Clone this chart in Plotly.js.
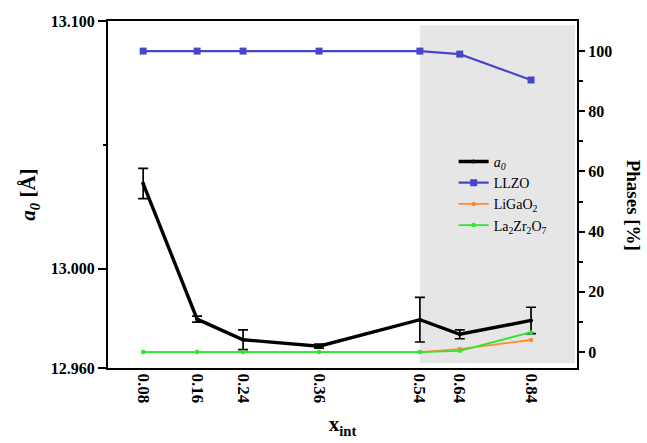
<!DOCTYPE html>
<html>
<head>
<meta charset="utf-8">
<script src="https://cdn.plot.ly/plotly-3.0.1.min.js"></script>
<style>html,body{margin:0;padding:0;background:#fff;}#chart{width:647px;height:443px;}</style>
</head>
<body>
<div id="chart"></div>
<script>
// x categories (tick labels) and their plotted positions on the original (non-linear) axis
const xLabels = ['0.08', '0.16', '0.24', '0.36', '0.54', '0.64', '0.84'];
const xPlot = [0.075, 0.19, 0.288, 0.45, 0.665, 0.75, 0.902];

// lattice parameter a0 [Å] and its error
const a0 = [13.0344, 12.9797, 12.9714, 12.9688, 12.9795, 12.9736, 12.9792];
const a0Err = [0.0061, 0.0012, 0.0040, 0.0008, 0.0090, 0.0018, 0.0053];

// phase fractions [%]
const llzo = [100, 100, 100, 100, 100, 99, 90.4];
const ligao2 = [0, 0, 0, 0, 0, 1, 4];
const la2zr2o7 = [0, 0, 0, 0, 0, 0.4, 6.6];

const FONT = 'Liberation Serif, Times New Roman, serif';

const traces = [
  {
    x: xPlot, y: a0, name: '<i>a<sub>0</sub></i>', yaxis: 'y',
    type: 'scatter', mode: 'lines+markers',
    line: {color: '#000000', width: 3.4},
    marker: {color: '#000000', size: 4, symbol: 'circle'},
    error_y: {type: 'data', array: a0Err, visible: true, color: '#000000', thickness: 1.7, width: 5}
  },
  {
    x: xPlot, y: llzo, name: 'LLZO', yaxis: 'y2',
    type: 'scatter', mode: 'lines+markers',
    line: {color: '#4646c8', width: 2.2},
    marker: {color: '#4646c8', size: 7, symbol: 'square'}
  },
  {
    x: xPlot, y: ligao2, name: 'LiGaO<sub>2</sub>', yaxis: 'y2',
    type: 'scatter', mode: 'lines+markers',
    line: {color: '#ff8a33', width: 1.8},
    marker: {color: '#ff8a33', size: 4.5, symbol: 'circle'}
  },
  {
    x: xPlot, y: la2zr2o7, name: 'La<sub>2</sub>Zr<sub>2</sub>O<sub>7</sub>', yaxis: 'y2',
    type: 'scatter', mode: 'lines+markers',
    line: {color: '#2ee82e', width: 1.8},
    marker: {color: '#2ee82e', size: 4.5, symbol: 'circle'}
  }
];

const layout = {
  width: 647, height: 443,
  margin: {l: 108, r: 70, t: 21, b: 75},
  paper_bgcolor: '#ffffff', plot_bgcolor: '#ffffff',
  font: {family: FONT, color: '#000000', size: 16},
  showlegend: true,
  legend: {
    x: 0.737, y: 0.64, xanchor: 'left', yanchor: 'top',
    bgcolor: 'rgba(0,0,0,0)', borderwidth: 0,
    font: {family: FONT, size: 14, color: '#000000'},
    tracegroupgap: 0
  },
  xaxis: {
    range: [0, 1], tickmode: 'array', tickvals: xPlot, ticktext: xLabels,
    tickangle: 90, ticks: '', showgrid: false, zeroline: false,
    showline: true, linecolor: '#000000', linewidth: 2, mirror: true,
    tickfont: {family: FONT, size: 17, color: '#000000', weight: 'bold'},
    title: {text: '<b>x<sub>int</sub></b>', font: {family: FONT, size: 21, color: '#000000'}, standoff: 14}
  },
  yaxis: {
    range: [12.96, 13.1], tickmode: 'array', tickvals: [12.96, 13.0, 13.1],
    ticktext: ['12.960', '13.000', '13.100'],
    ticks: 'outside', ticklen: 8, tickwidth: 2, tickcolor: '#000000',
    minor: {tickmode: 'array', tickvals: [13.05], ticks: 'outside', ticklen: 3, tickwidth: 2, tickcolor: '#000000'},
    showgrid: false, zeroline: false,
    showline: true, linecolor: '#000000', linewidth: 2,
    tickfont: {family: FONT, size: 16, color: '#000000', weight: 'bold'},
    title: {text: '<b><i>a<sub>0</sub></i> [Å]</b>', font: {family: FONT, size: 21, color: '#000000'}, standoff: 9}
  },
  yaxis2: {
    overlaying: 'y', side: 'right', range: [-5.3, 110],
    tickmode: 'array', tickvals: [0, 20, 40, 60, 80, 100],
    ticks: 'outside', ticklen: 6, tickwidth: 2, tickcolor: '#000000',
    minor: {tickmode: 'array', tickvals: [10, 30, 50, 70, 90], ticks: 'outside', ticklen: 4, tickwidth: 2, tickcolor: '#000000'},
    showgrid: false, zeroline: false,
    showline: true, linecolor: '#000000', linewidth: 2,
    tickfont: {family: FONT, size: 16, color: '#000000', weight: 'bold'}
  },
  shapes: [{
    type: 'rect', xref: 'x', yref: 'paper',
    x0: xPlot[4], x1: 0.996, y0: 0.014, y1: 0.988,
    fillcolor: '#e6e6e6', line: {width: 0}, layer: 'below'
  }],
  annotations: [{
    text: '<b>Phases [%]</b>', xref: 'paper', yref: 'paper',
    x: 1.12, y: 0.47, xanchor: 'center', yanchor: 'middle',
    textangle: 90, showarrow: false,
    font: {family: FONT, size: 19, color: '#000000'}
  }]
};

Plotly.newPlot('chart', traces, layout, {displayModeBar: false, staticPlot: true});
</script>
</body>
</html>
